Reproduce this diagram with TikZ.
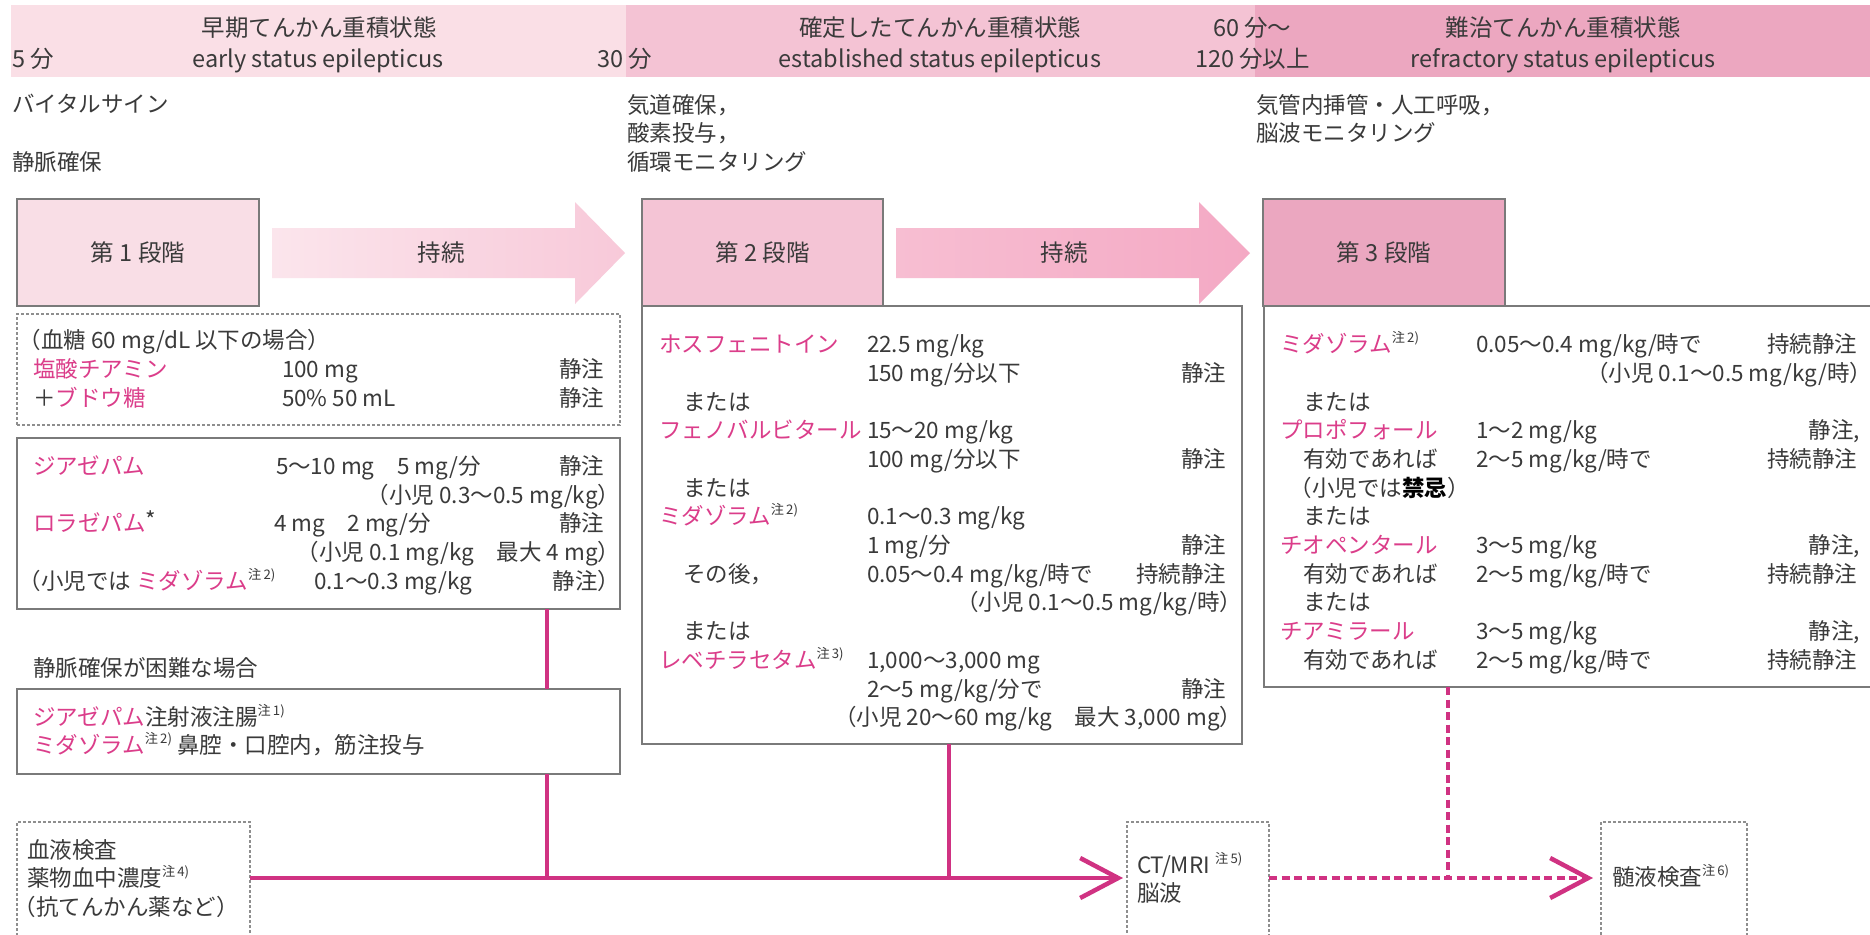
\documentclass[tikz,border=0pt]{standalone}
\usepackage{fontspec}
\setmainfont{Noto Sans CJK JP}
\usetikzlibrary{arrows.meta,fit,calc}
\definecolor{txt}{HTML}{3A3A3A}
\definecolor{pinkt}{HTML}{DB3D8A}
\definecolor{pline}{HTML}{D03282}
\definecolor{bandA}{HTML}{FADFE6}
\definecolor{bandB}{HTML}{F4C3D4}
\definecolor{bandC}{HTML}{ECA7C0}
\definecolor{stA}{HTML}{F9DEE6}
\definecolor{stB}{HTML}{F4C4D5}
\definecolor{stC}{HTML}{EBA7C0}
\definecolor{arAl}{HTML}{FBE5EC}
\definecolor{arAr}{HTML}{F8C9D9}
\definecolor{arBl}{HTML}{F7BED2}
\definecolor{arBr}{HTML}{F4A9C4}
\definecolor{bord}{HTML}{7A7A7A}
\newcommand\myfs{\fontsize{11.25pt}{13pt}\selectfont}
\newcommand\myhs{\fontsize{11.75pt}{13pt}\selectfont}
\newcommand\pk[1]{\textcolor{pinkt}{#1}}
\newcommand\chu[1]{\raisebox{.45em}{\fontsize{6.6pt}{7pt}\selectfont 注\,#1)}}
\newcommand\mylp{\makebox[.5em][r]{（}}
\newcommand\myrp{\makebox[.5em][l]{）}}
\newcommand\myast{\raisebox{.12em}{*}}
\begin{document}
\begin{tikzpicture}[x=0.5pt,y=-0.5pt,
  tx/.style={inner sep=0pt, outer sep=0pt, text=txt, font=\myfs, text height=10pt, text depth=1.4pt},
  hd/.style={tx, font=\myhs},
  lt/.style={tx, anchor=west},
  rt/.style={tx, anchor=east},
  boxline/.style={draw=bord, line width=0.75pt, inner sep=0pt, outer sep=0pt},
  dboxline/.style={draw=bord!85, line width=0.6pt, dash pattern=on 1.5pt off 1pt, inner sep=0pt, outer sep=0pt},
  pkline/.style={draw=pline, line width=2.25pt},
  pkdash/.style={pkline, dash pattern=on 4pt off 2.25pt},
  endarrow/.style={-{Straight Barb[length=19pt, width=20pt]}}]
\useasboundingbox (0,0) rectangle (1870,934);
\fill[white] (0,0) rectangle (1870,934);
% header bands
\fill[bandA] (11,5) rectangle (626,77);
\fill[bandB] (626,5) rectangle (1255,77);
\fill[bandC] (1255,5) rectangle (1870,77);
\node[hd] (h1a) at (319,28) {早期てんかん重積状態};
\node[hd] (h1b) at (318,59) {early status epilepticus};
\node[hd, anchor=west] (h5) at (12,59) {5 分};
\node[hd, anchor=west] (h30) at (597,59) {30 分};
\node[hd] (h2a) at (940,28) {確定したてんかん重積状態};
\node[hd] (h2b) at (940,59) {established status epilepticus};
\node[hd, anchor=west] (h60) at (1213,28) {60 分～};
\node[hd, anchor=west] (h120) at (1195,59) {120 分以上};
\node[hd] (h3a) at (1563,28) {難治てんかん重積状態};
\node[hd] (h3b) at (1563,59) {refractory status epilepticus};
% general care
\node[lt] (v1) at (12,104) {バイタルサイン};
\node[lt] (v2) at (12,162) {静脈確保};
\node[lt] (v3) at (627,105) {気道確保，};
\node[lt] (v4) at (627,133) {酸素投与，};
\node[lt] (v5) at (627,162) {循環モニタリング};
\node[lt] (v6) at (1256,105) {気管内挿管・人工呼吸，};
\node[lt] (v7) at (1256,133) {脳波モニタリング};
% stage boxes
\node[boxline, fill=stA, fit={(17,199) (259,306)}] (s1) {};
\node[boxline, fill=stB, fit={(642,199) (883,306)}] (s2) {};
\node[boxline, fill=stC, fit={(1263,199) (1505,306)}] (s3) {};
\node[hd] (s1t) at (s1.center) {第 1 段階};
\node[hd] (s2t) at (s2.center) {第 2 段階};
\node[hd] (s3t) at (s3.center) {第 3 段階};
% continue arrows
\shade[left color=arAl, right color=arAr] (272,228) -- (575,228) -- (575,202) -- (625,253) -- (575,304) -- (575,278) -- (272,278) -- cycle;
\shade[left color=arBl, right color=arBr] (896,228) -- (1199,228) -- (1199,202) -- (1250,253) -- (1199,304) -- (1199,278) -- (896,278) -- cycle;
\node[hd] (c1) at (441,253) {持続};
\node[hd] (c2) at (1064,253) {持続};
% glucose box
\node[dboxline, fit={(17,314) (620,425)}] (gl) {};
\node[lt] (g1) at (30,340) {\mylp 血糖 60 mg/dL 以下の場合\myrp};
\node[lt] (g2a) at (33,369) {\pk{塩酸チアミン}};
\node[lt] (g2b) at (282,369) {100 mg};
\node[rt] (g2c) at (604,369) {静注};
\node[lt] (g3a) at (33,398) {＋\pk{ブドウ糖}};
\node[lt] (g3b) at (282,398) {50\% 50 mL};
\node[rt] (g3c) at (604,398) {静注};
% stage 1 drugs
\node[boxline, fit={(17,438) (620,609)}] (b1) {};
\node[lt] (d1a) at (33,466) {\pk{ジアゼパム}};
\node[lt] (d1b) at (276,466) {5～10 mg　5 mg/分};
\node[rt] (d1c) at (604,466) {静注};
\node[rt] (d2) at (609,495) {\mylp 小児 0.3～0.5 mg/kg\myrp};
\node[lt] (d3a) at (33,523) {\pk{ロラゼパム}\myast};
\node[lt] (d3b) at (274,523) {4 mg　2 mg/分};
\node[rt] (d3c) at (604,523) {静注};
\node[rt] (d4) at (609,552) {\mylp 小児 0.1 mg/kg　最大 4 mg\myrp};
\node[lt] (d5a) at (30,581) {\mylp 小児では \pk{ミダゾラム}\chu{2}};
\node[lt] (d5b) at (314,581) {0.1～0.3 mg/kg};
\node[rt] (d5c) at (609,581) {静注\myrp};
% iv difficult
\node[lt] (ivh) at (33,668) {静脈確保が困難な場合};
\node[boxline, fit={(17,689) (620,774)}] (iv) {};
\node[lt] (iv1) at (33,717) {\pk{ジアゼパム}注射液注腸\chu{1}};
\node[lt] (iv2) at (33,745) {\pk{ミダゾラム}\chu{2} 鼻腔・口腔内，筋注投与};
% blood tests
\node[dboxline, fit={(17,822) (250,940)}] (blood) {};
\node[lt] (bl1) at (27,850) {血液検査};
\node[lt] (bl2) at (27,878) {薬物血中濃度\chu{4}};
\node[lt] (bl3) at (25,907) {\mylp 抗てんかん薬など\myrp};
% stage 2 content
\node[boxline, fit={(642,306) (1242,744)}] (b2c) {};
\node[lt] (e0a) at (659,344) {\pk{ホスフェニトイン}};
\node[lt] (e0b) at (867,344) {22.5 mg/kg};
\node[lt] (e1b) at (867,372.7) {150 mg/分以下};
\node[rt] (e1c) at (1226,372.7) {静注};
\node[lt] (e2) at (683,401.4) {または};
\node[lt] (e3a) at (659,430.1) {\pk{フェノバルビタール}};
\node[lt] (e3b) at (867,430.1) {15～20 mg/kg};
\node[lt] (e4b) at (867,458.8) {100 mg/分以下};
\node[rt] (e4c) at (1226,458.8) {静注};
\node[lt] (e5) at (683,487.5) {または};
\node[lt] (e6a) at (659,516.2) {\pk{ミダゾラム}\chu{2}};
\node[lt] (e6b) at (867,516.2) {0.1～0.3 mg/kg};
\node[lt] (e7b) at (867,544.9) {1 mg/分};
\node[rt] (e7c) at (1226,544.9) {静注};
\node[lt] (e8a) at (683,573.6) {その後，};
\node[lt] (e8b) at (867,573.6) {0.05～0.4 mg/kg/時で};
\node[rt] (e8c) at (1226,573.6) {持続静注};
\node[rt] (e9) at (1231,602.3) {\mylp 小児 0.1～0.5 mg/kg/時\myrp};
\node[lt] (e10) at (683,631) {または};
\node[lt] (e11a) at (659,659.7) {\pk{レベチラセタム}\chu{3}};
\node[lt] (e11b) at (867,659.7) {1,000～3,000 mg};
\node[lt] (e12b) at (867,688.4) {2～5 mg/kg/分で};
\node[rt] (e12c) at (1226,688.4) {静注};
\node[rt] (e13) at (1231,717.1) {\mylp 小児 20～60 mg/kg　最大 3,000 mg\myrp};
% stage 3 content
\node[boxline, fit={(1264,306) (1880,687)}] (b3c) {};
\node[lt] (f0a) at (1280,344) {\pk{ミダゾラム}\chu{2}};
\node[lt] (f0b) at (1476,344) {0.05～0.4 mg/kg/時で};
\node[rt] (f0c) at (1857,344) {持続静注};
\node[rt] (f1) at (1861,372.7) {\mylp 小児 0.1～0.5 mg/kg/時\myrp};
\node[lt] (f2) at (1303,401.4) {または};
\node[lt] (f3a) at (1280,430.1) {\pk{プロポフォール}};
\node[lt] (f3b) at (1476,430.1) {1～2 mg/kg};
\node[rt] (f3c) at (1860,430.1) {静注,};
\node[lt] (f4a) at (1303,458.8) {有効であれば};
\node[lt] (f4b) at (1476,458.8) {2～5 mg/kg/時で};
\node[rt] (f4c) at (1857,458.8) {持続静注};
\node[lt] (f5) at (1301,487.5) {\mylp 小児では\textcolor{black}{\textbf{禁忌}}\myrp};
\node[lt] (f6) at (1303,516.2) {または};
\node[lt] (f7a) at (1280,544.9) {\pk{チオペンタール}};
\node[lt] (f7b) at (1476,544.9) {3～5 mg/kg};
\node[rt] (f7c) at (1860,544.9) {静注,};
\node[lt] (f8a) at (1303,573.6) {有効であれば};
\node[lt] (f8b) at (1476,573.6) {2～5 mg/kg/時で};
\node[rt] (f8c) at (1857,573.6) {持続静注};
\node[lt] (f9) at (1303,602.3) {または};
\node[lt] (f10a) at (1280,631) {\pk{チアミラール}};
\node[lt] (f10b) at (1476,631) {3～5 mg/kg};
\node[rt] (f10c) at (1860,631) {静注,};
\node[lt] (f11a) at (1303,659.7) {有効であれば};
\node[lt] (f11b) at (1476,659.7) {2～5 mg/kg/時で};
\node[rt] (f11c) at (1857,659.7) {持続静注};
% exam boxes
\node[dboxline, fit={(1127,822) (1269,940)}] (ct) {};
\node[lt] (ct1) at (1137,865) {CT/MRI \chu{5}};
\node[lt] (ct2) at (1137,893) {脳波};
\node[dboxline, fit={(1601,822) (1747,940)}] (csf) {};
\node[lt] (csf1) at (1612,877) {髄液検査\chu{6}};
% connectors
\coordinate (j1) at (547,878);
\coordinate (j2) at (949,878);
\coordinate (j3) at (1448,878);
\draw[pkline] (b1.south -| j1) -- (iv.north -| j1);
\draw[pkline] (iv.south -| j1) -- (j1);
\draw[pkline] (b2c.south -| j2) -- (j2);
\draw[pkline, endarrow, shorten >=2pt] (blood.east |- j1) -- (ct.west |- j1);
\draw[pkdash] (b3c.south -| j3) -- (j3);
\draw[pkdash, endarrow, shorten >=4pt] (ct.east |- j1) -- (csf.west |- j1);
\end{tikzpicture}
\end{document}
